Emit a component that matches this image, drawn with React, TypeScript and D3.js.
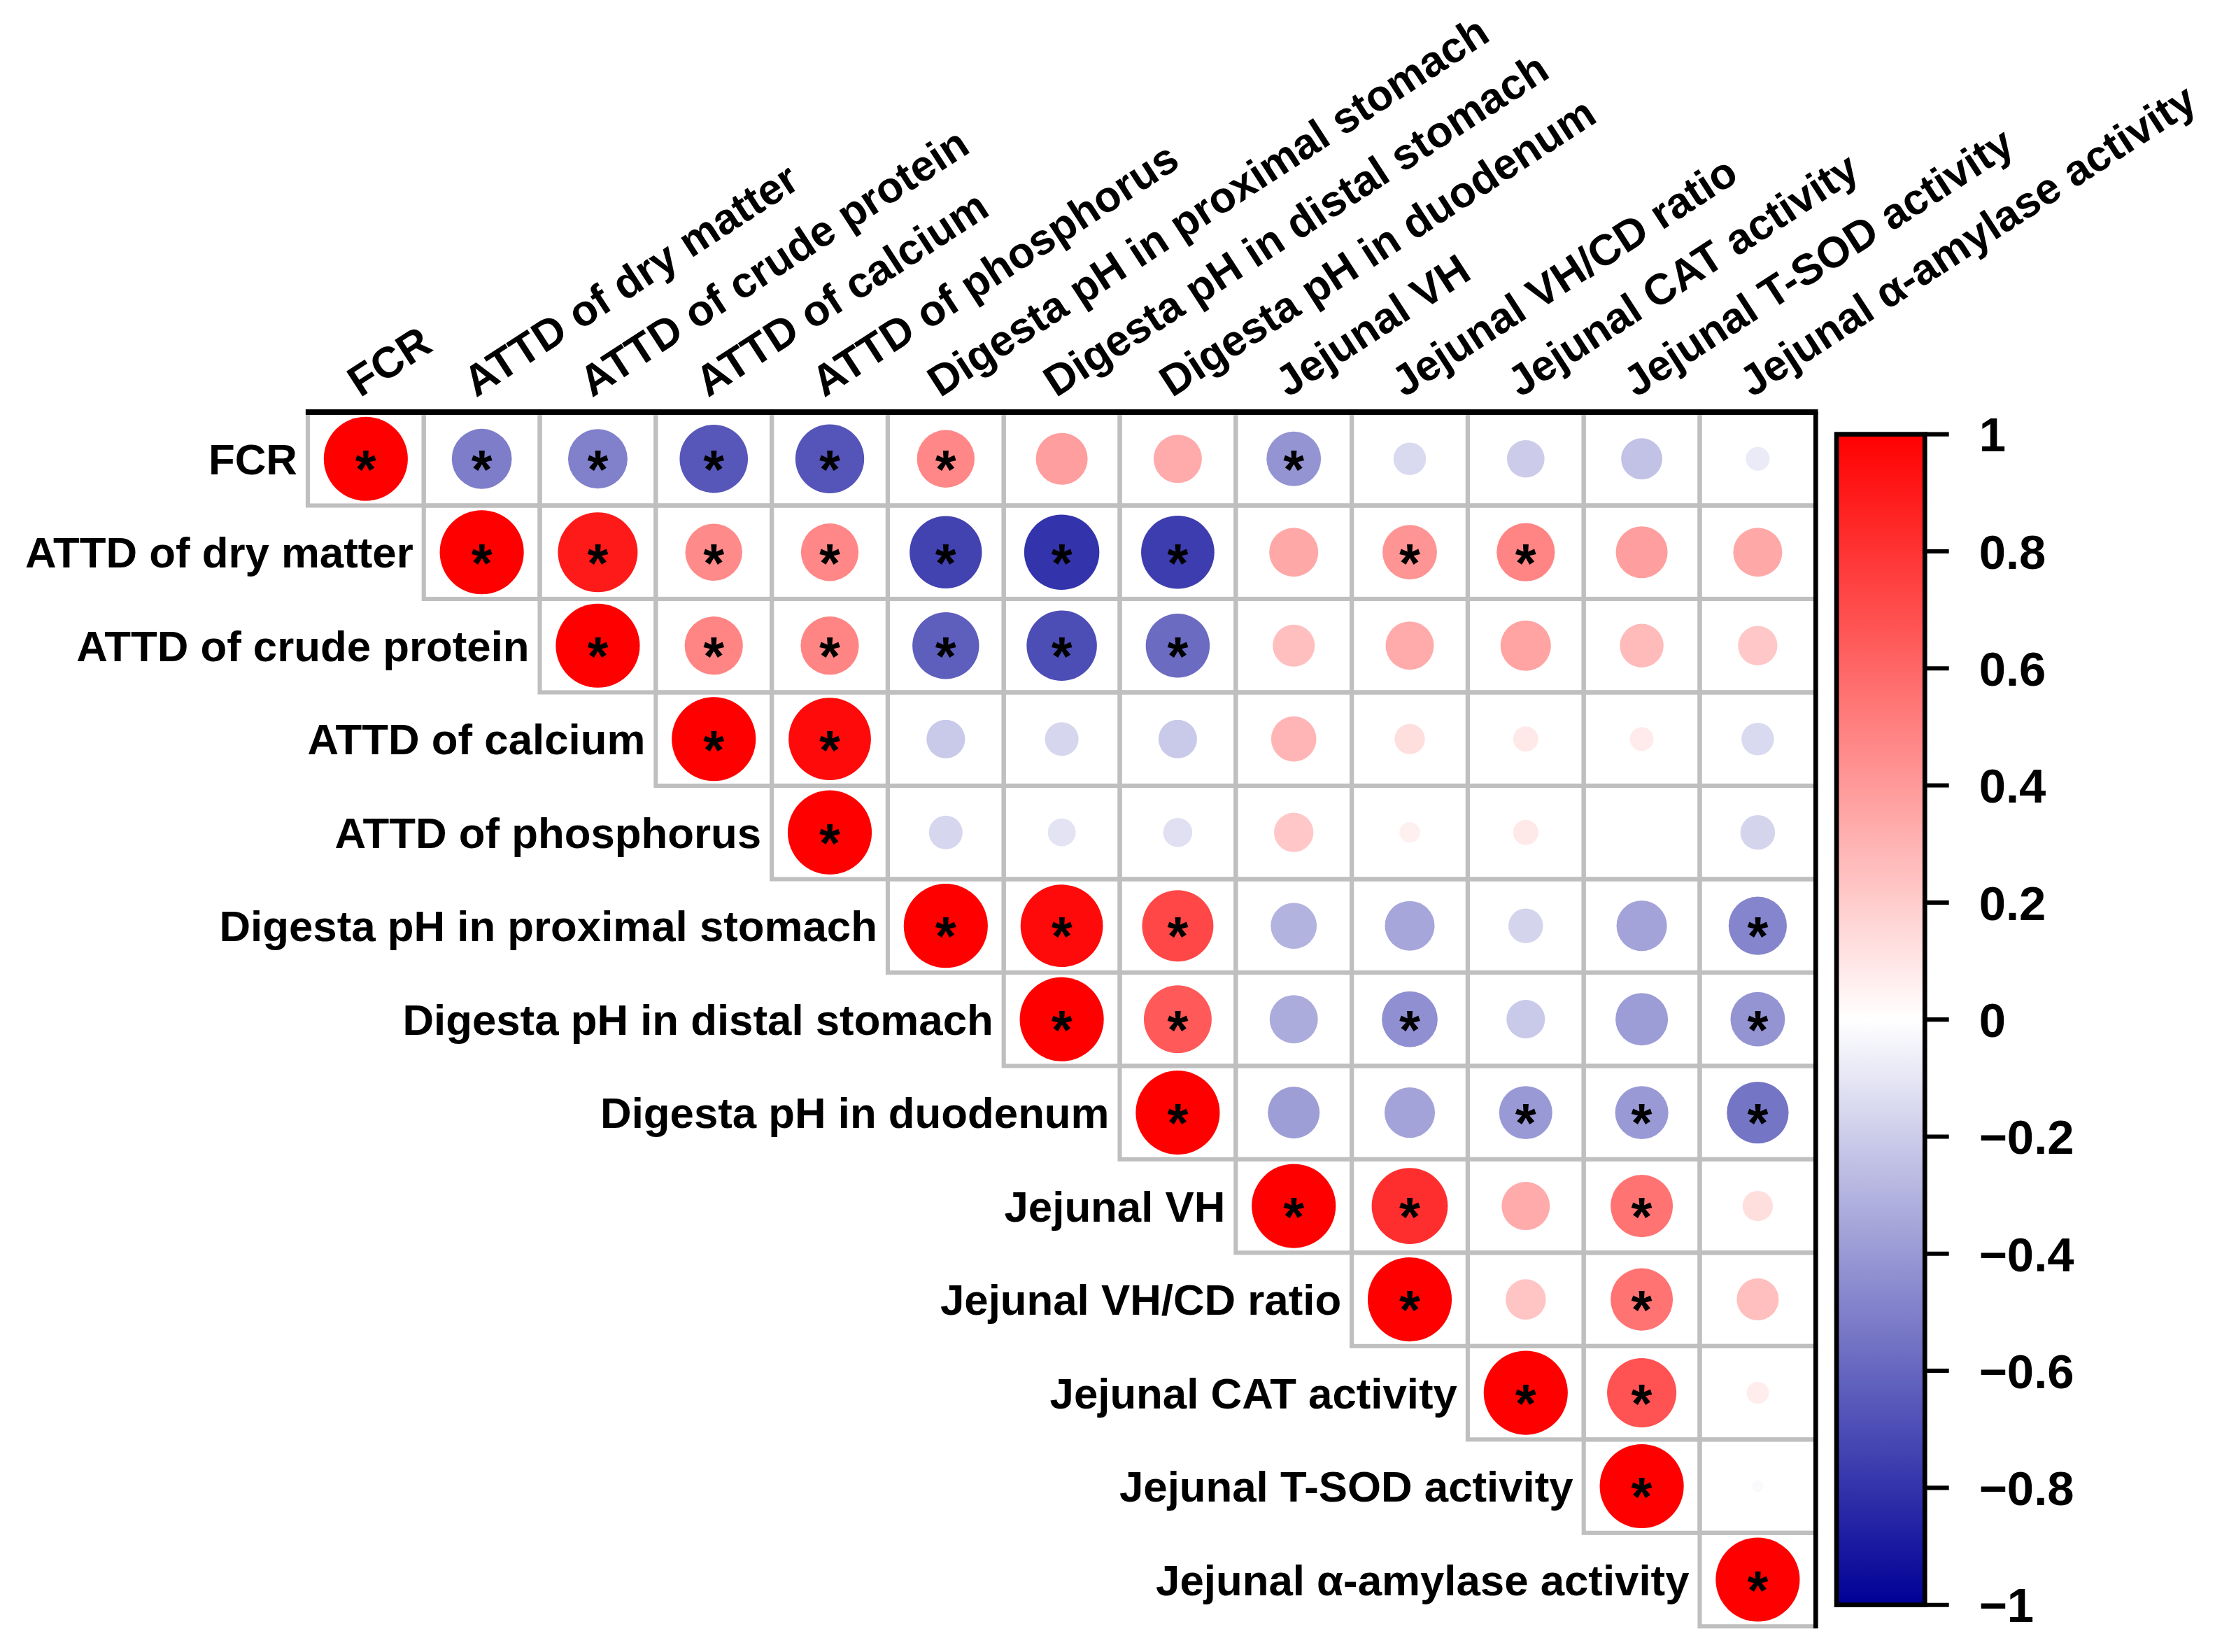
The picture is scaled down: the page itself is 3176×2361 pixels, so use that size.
import * as d3 from "d3";
import { useEffect, useRef } from "react";

const WIDTH = 3176;
const HEIGHT = 2361;
// layout numbers below are in a 1568-wide frame; the viewBox scales it up
const VIEW_W = 1568;
const VIEW_H = (VIEW_W * HEIGHT) / WIDTH;

const FONT = "'Liberation Sans', Arial, Helvetica, sans-serif";

const variables = [
    "FCR",
    "ATTD of dry matter",
    "ATTD of crude protein",
    "ATTD of calcium",
    "ATTD of phosphorus",
    "Digesta pH in proximal stomach",
    "Digesta pH in distal stomach",
    "Digesta pH in duodenum",
    "Jejunal VH",
    "Jejunal VH/CD ratio",
    "Jejunal CAT activity",
    "Jejunal T-SOD activity",
    "Jejunal α-amylase activity",
];

// upper triangle of the correlation matrix, each row starts at the diagonal
const corrRows = [
    [1, -0.51, -0.5, -0.66, -0.67, 0.47, 0.38, 0.33, -0.42, -0.15, -0.2, -0.24, -0.08],
    [1, 0.9, 0.46, 0.47, -0.74, -0.8, -0.76, 0.34, 0.42, 0.48, 0.38, 0.34],
    [1, 0.48, 0.48, -0.63, -0.7, -0.58, 0.25, 0.33, 0.36, 0.27, 0.22],
    [1, 0.96, -0.21, -0.16, -0.21, 0.29, 0.13, 0.09, 0.08, -0.15],
    [1, -0.16, -0.11, -0.12, 0.22, 0.06, 0.09, 0, -0.17],
    [1, 0.96, 0.72, -0.3, -0.35, -0.17, -0.36, -0.48],
    [1, 0.65, -0.33, -0.44, -0.21, -0.39, -0.42],
    [1, -0.38, -0.36, -0.4, -0.4, -0.54],
    [1, 0.82, 0.33, 0.55, 0.13],
    [1, 0.23, 0.55, 0.25],
    [1, 0.68, 0.07],
    [1, -0.02],
    [1],
];

// 1 = significant (marked with *)
const sigRows = [
    [1, 1, 1, 1, 1, 1, 0, 0, 1, 0, 0, 0, 0],
    [1, 1, 1, 1, 1, 1, 1, 0, 1, 1, 0, 0],
    [1, 1, 1, 1, 1, 1, 0, 0, 0, 0, 0],
    [1, 1, 0, 0, 0, 0, 0, 0, 0, 0],
    [1, 0, 0, 0, 0, 0, 0, 0, 0],
    [1, 1, 1, 0, 0, 0, 0, 1],
    [1, 1, 0, 1, 0, 0, 1],
    [1, 0, 0, 1, 1, 1],
    [1, 1, 0, 1, 0],
    [1, 0, 1, 0],
    [1, 1, 0],
    [1, 0],
    [1],
];

const colorTicks = [1, 0.8, 0.6, 0.4, 0.2, 0, -0.2, -0.4, -0.6, -0.8, -1];
const colorTickLabels = ["1", "0.8", "0.6", "0.4", "0.2", "0", "−0.2", "−0.4", "−0.6", "−0.8", "−1"];

export default function App() {
    const svgRef = useRef<SVGSVGElement | null>(null);

    useEffect(() => {
        if (!svgRef.current) return;
        const svg = d3.select(svgRef.current);
        svg.selectAll("*").remove();

        const n = variables.length;
        const x = d3.scaleBand<number>().domain(d3.range(n)).range([217.2, 1281.3]);
        const y = d3.scaleBand<number>().domain(d3.range(n)).range([290.8, 1147.5]);
        const color = d3.scaleLinear<string>().domain([-1, 0, 1]).range(["#000096", "#ffffff", "#ff0000"]);
        const maxR = 0.45 * y.bandwidth();
        const labelSize = 30.5;

        const cells = corrRows.flatMap((row, i) => row.map((r, k) => ({ i, j: i + k, r, sig: sigRows[i][k] === 1 })));

        svg.append("rect").attr("width", VIEW_W).attr("height", VIEW_H).attr("fill", "#fff");

        // grid
        svg.append("g")
            .selectAll("rect")
            .data(cells)
            .enter()
            .append("rect")
            .attr("x", (d) => x(d.j) ?? 0)
            .attr("y", (d) => y(d.i) ?? 0)
            .attr("width", x.bandwidth())
            .attr("height", y.bandwidth())
            .attr("fill", "none")
            .attr("stroke", "#bfbfbf")
            .attr("stroke-width", 3);

        const [gx0, gx1] = x.range();
        const [gy0, gy1] = y.range();
        svg.append("line").attr("x1", gx0 - 1.5).attr("x2", gx1 + 1.6).attr("y1", gy0).attr("y2", gy0).attr("stroke", "#000").attr("stroke-width", 4);
        svg.append("line").attr("x1", gx1).attr("x2", gx1).attr("y1", gy0).attr("y2", gy1 + 1.5).attr("stroke", "#000").attr("stroke-width", 3.3);

        // circles
        svg.append("g")
            .selectAll("circle")
            .data(cells)
            .enter()
            .append("circle")
            .attr("cx", (d) => (x(d.j) ?? 0) + x.bandwidth() / 2)
            .attr("cy", (d) => (y(d.i) ?? 0) + y.bandwidth() / 2)
            .attr("r", (d) => maxR * Math.sqrt(Math.abs(d.r)))
            .attr("fill", (d) => color(d.r));

        const starSize = 38;
        svg.append("g")
            .selectAll("text")
            .data(cells.filter((d) => d.sig))
            .enter()
            .append("text")
            .attr("x", (d) => (x(d.j) ?? 0) + x.bandwidth() / 2)
            .attr("y", (d) => (y(d.i) ?? 0) + y.bandwidth() / 2 + 0.55 * starSize)
            .attr("text-anchor", "middle")
            .attr("font-family", FONT)
            .attr("font-weight", "bold")
            .attr("font-size", starSize)
            .attr("fill", "#000")
            .text("*");

        // row labels
        svg.append("g")
            .selectAll("text")
            .data(variables)
            .enter()
            .append("text")
            .attr("x", (_, i) => (x(i) ?? 0) - 7.4)
            .attr("y", (_, i) => (y(i) ?? 0) + y.bandwidth() / 2 + 0.36 * labelSize)
            .attr("text-anchor", "end")
            .attr("font-family", FONT)
            .attr("font-weight", "bold")
            .attr("font-size", labelSize)
            .attr("fill", "#000")
            .text((d) => d);

        // column labels
        svg.append("g")
            .selectAll("text")
            .data(variables)
            .enter()
            .append("text")
            .attr("transform", (_, j) => `translate(${(x(j) ?? 0) + x.bandwidth() / 2 - 4},${gy0 - 10}) rotate(-33)`)
            .attr("text-anchor", "start")
            .attr("font-family", FONT)
            .attr("font-weight", "bold")
            .attr("font-size", labelSize)
            .attr("fill", "#000")
            .text((d) => d);

        // colour bar
        const yc = d3.scaleLinear().domain([-1, 1]).range([1132.4, 306.4]);
        const barX = 1296;
        const barW = 62.3;
        const grad = svg
            .append("defs")
            .append("linearGradient")
            .attr("id", "cbar")
            .attr("x1", 0)
            .attr("y1", 1)
            .attr("x2", 0)
            .attr("y2", 0);
        grad.selectAll("stop")
            .data(d3.range(-1, 1.0001, 0.05))
            .enter()
            .append("stop")
            .attr("offset", (v) => (v + 1) / 2)
            .attr("stop-color", (v) => color(v));

        svg.append("rect")
            .attr("x", barX)
            .attr("y", yc(1))
            .attr("width", barW)
            .attr("height", yc(-1) - yc(1))
            .attr("fill", "url(#cbar)")
            .attr("stroke", "#000")
            .attr("stroke-width", 3.3);

        const ticks = svg.append("g");
        ticks.selectAll("line")
            .data(colorTicks)
            .enter()
            .append("line")
            .attr("x1", barX + barW)
            .attr("x2", barX + barW + 17)
            .attr("y1", (d) => yc(d))
            .attr("y2", (d) => yc(d))
            .attr("stroke", "#000")
            .attr("stroke-width", 3);
        ticks.selectAll("text")
            .data(colorTicks)
            .enter()
            .append("text")
            .attr("x", 1396.5)
            .attr("y", (d) => yc(d) + 0.36 * 34)
            .attr("font-family", FONT)
            .attr("font-weight", "bold")
            .attr("font-size", 34)
            .attr("fill", "#000")
            .text((_, i) => colorTickLabels[i]);
    }, []);

    return (
        <div style={{ position: "absolute", left: 0, top: 0, background: "#fff" }}>
            <svg ref={svgRef} width={WIDTH} height={HEIGHT} viewBox={`0 0 ${VIEW_W} ${VIEW_H}`} style={{ display: "block" }} />
        </div>
    );
}
